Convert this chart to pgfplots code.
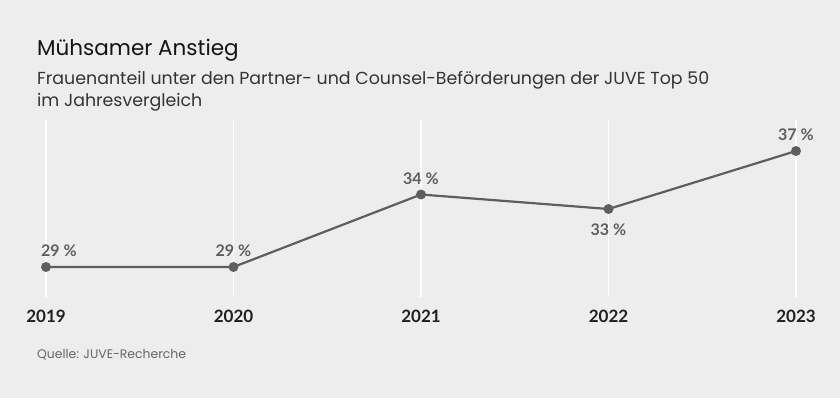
\documentclass[border=0pt]{standalone}
\usepackage{pgfplots}
\usepackage{pgfplotstable}
\pgfplotsset{compat=1.18}
\usepackage{fontspec}
\setmainfont{Lato}
\newfontfamily\titlefont{Poppins}
\definecolor{bg}{HTML}{EDEDED}
\definecolor{linec}{HTML}{5E5E5E}
\pgfplotstableread{
year val dx dy
2019 29 13 16
2020 29 0 16
2021 34 0 16
2022 33 0 -21
2023 37 0 16
}\data
\begin{document}
\begin{tikzpicture}
\fill[bg] (0pt,0pt) rectangle (840pt,398pt);
\node[anchor=base west, inner sep=0pt, font=\titlefont\fontsize{21.5}{24}\selectfont, text=black!92] at (37pt,342pt) {Mühsamer Anstieg};
\node[anchor=base west, inner sep=0pt, font=\titlefont\fontsize{17.4}{22}\selectfont, text=black!80] at (37pt,313pt) {Frauenanteil unter den Partner- und Counsel-Beförderungen der JUVE Top 50};
\node[anchor=base west, inner sep=0pt, font=\titlefont\fontsize{17.4}{22}\selectfont, text=black!80] at (37pt,291pt) {im Jahresvergleich};
\node[anchor=base west, inner sep=0pt, font=\titlefont\fontsize{12.4}{16}\selectfont, text=black!60] at (37pt,39pt) {Quelle: JUVE-Recherche};
\begin{axis}[
  at={(46pt,101pt)}, anchor=south west,
  scale only axis, width=750pt, height=177pt,
  xmin=2019, xmax=2023, ymin=26.93, ymax=39.14,
  clip=false,
  axis line style={draw=none},
  major tick length=0pt,
  xtick={2019,2020,2021,2022,2023},
  xticklabels={2019,2020,2021,2022,2023},
  ytick=\empty,
  xmajorgrids, major grid style={white, line width=1.5pt},
  xticklabel style={anchor=base, yshift=-26pt, font=\bfseries\fontsize{17}{20}\selectfont, text=black!88},
  /pgf/number format/assume math mode=true,
]
\addplot[linec, line width=2.2pt, mark=*, mark size=3.8pt, mark options={solid, fill=linec, draw=none},
  point meta=explicit,
  nodes near coords={\pgfmathprintnumber{\pgfplotspointmeta}\hspace{0.25em}\%},
  visualization depends on={\thisrow{dx} \as \dx},
  visualization depends on={\thisrow{dy} \as \dy},
  every node near coord/.append style={anchor=center, xshift=\dx, yshift=\dy, font=\bfseries\fontsize{16}{18}\selectfont, text=linec}
] table[x=year, y=val, meta=val] {\data};
\end{axis}
\pgfresetboundingbox
\useasboundingbox (0pt,0pt) rectangle (840pt,398pt);
\end{tikzpicture}
\end{document}
